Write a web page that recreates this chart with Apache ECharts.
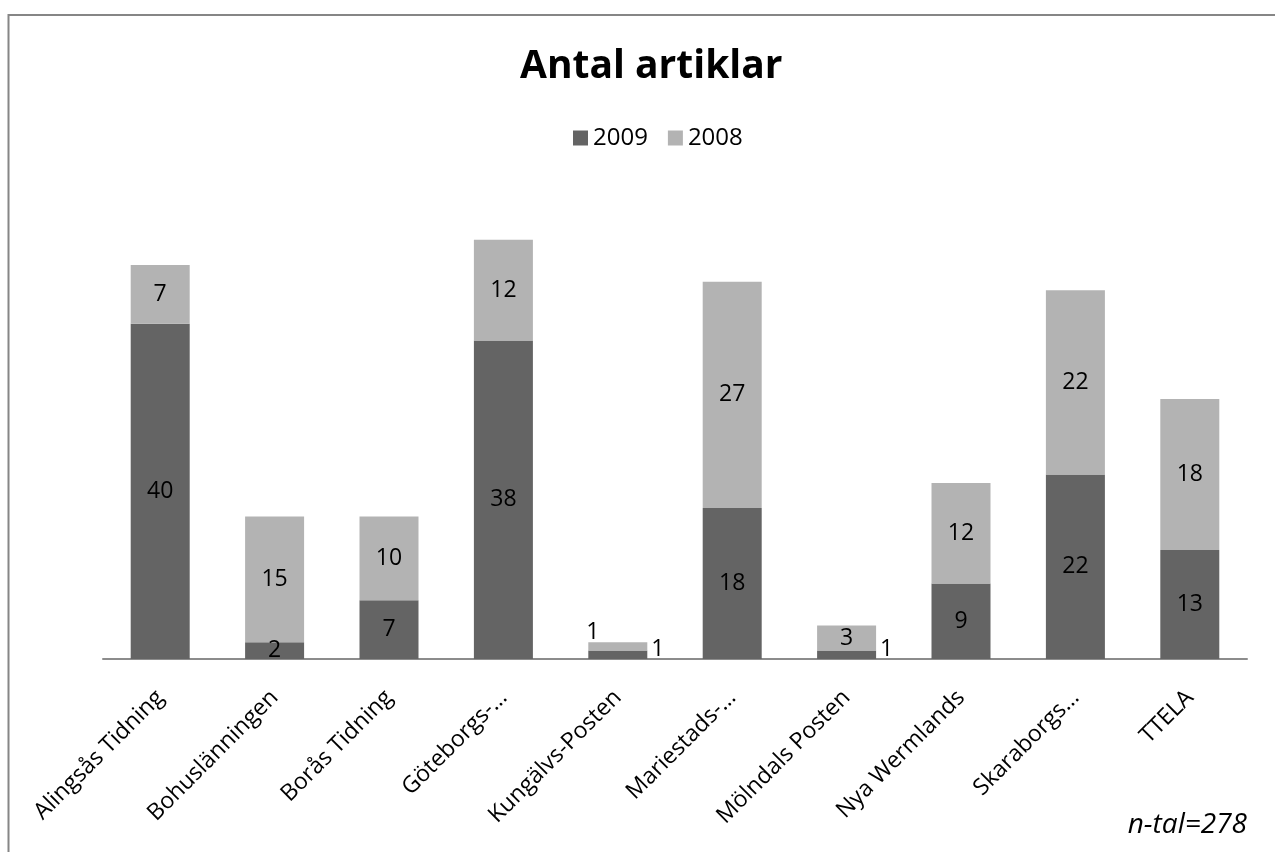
<!DOCTYPE html>
<html>
<head>
<meta charset="utf-8">
<script src="https://cdn.jsdelivr.net/npm/echarts@6/dist/echarts.min.js"></script>
<style>
  html, body { margin: 0; padding: 0; background: #fff; }
  #canvas { width: 1275px; height: 852px; }
</style>
</head>
<body>
<div id="canvas"></div>
<script>
const categories = ["Alingsås Tidning", "Bohuslänningen", "Borås Tidning", "Göteborgs-…", "Kungälvs-Posten",
  "Mariestads-…", "Mölndals Posten", "Nya Wermlands", "Skaraborgs…", "TTELA"];
const values2009 = [40, 2, 7, 38, 1, 18, 1, 9, 22, 13];
const values2008 = [7, 15, 10, 12, 1, 27, 3, 12, 22, 18];

const font = "'Open Sans', 'Noto Sans', sans-serif";
const inLabel = { show: true, position: "inside", color: "#000", fontSize: 23, fontFamily: font };

// small bars get their labels beside the bar, as in the original
const data2009 = values2009.map((v) => {
  if (v <= 1) return { value: v, label: { position: "right", distance: 4, offset: [0, -5] } };
  return v;
});
const data2008 = values2008.map((v) => {
  if (v <= 1) return { value: v, label: { position: "top", distance: 0, offset: [-25, 2] } };
  return v;
});

const myChart = echarts.init(document.querySelector("#canvas"));
myChart.setOption({
  animation: false,
  textStyle: { fontFamily: font },
  title: {
    text: "Antal artiklar",
    left: 515,
    top: 42,
    textStyle: { fontSize: 39, fontWeight: "bold", color: "#000", fontFamily: font }
  },
  legend: {
    top: 121,
    left: 568,
    itemWidth: 15,
    itemHeight: 15,
    itemGap: 20,
    icon: "rect",
    textStyle: { fontSize: 24, color: "#000", fontFamily: font },
    data: ["2009", "2008"]
  },
  grid: { left: 103, right: 28, top: 156, bottom: 193 },
  xAxis: {
    type: "category",
    data: categories,
    axisLine: { lineStyle: { color: "#8c8c8c", width: 2 } },
    axisTick: { show: false },
    axisLabel: { rotate: 45, interval: 0, fontSize: 23, color: "#000", margin: 35, fontFamily: font }
  },
  yAxis: {
    type: "value",
    min: 0,
    max: 60,
    show: false,
    splitLine: { show: false }
  },
  graphic: [
    {
      type: "rect",
      shape: { x: 8.5, y: 15, width: 1300, height: 900 },
      style: { fill: "none", stroke: "#868686", lineWidth: 2 },
      silent: true
    },
    {
      type: "text",
      right: 28,
      top: 811,
      style: { text: "n-tal=278", fontSize: 28, fontStyle: "italic", fill: "#000", fontFamily: font }
    }
  ],
  series: [
    {
      name: "2009",
      type: "bar",
      stack: "total",
      barWidth: 59,
      itemStyle: { color: "#646464" },
      label: inLabel,
      data: data2009
    },
    {
      name: "2008",
      type: "bar",
      stack: "total",
      barWidth: 59,
      itemStyle: { color: "#b3b3b3" },
      label: inLabel,
      data: data2008
    }
  ]
});
</script>
</body>
</html>
